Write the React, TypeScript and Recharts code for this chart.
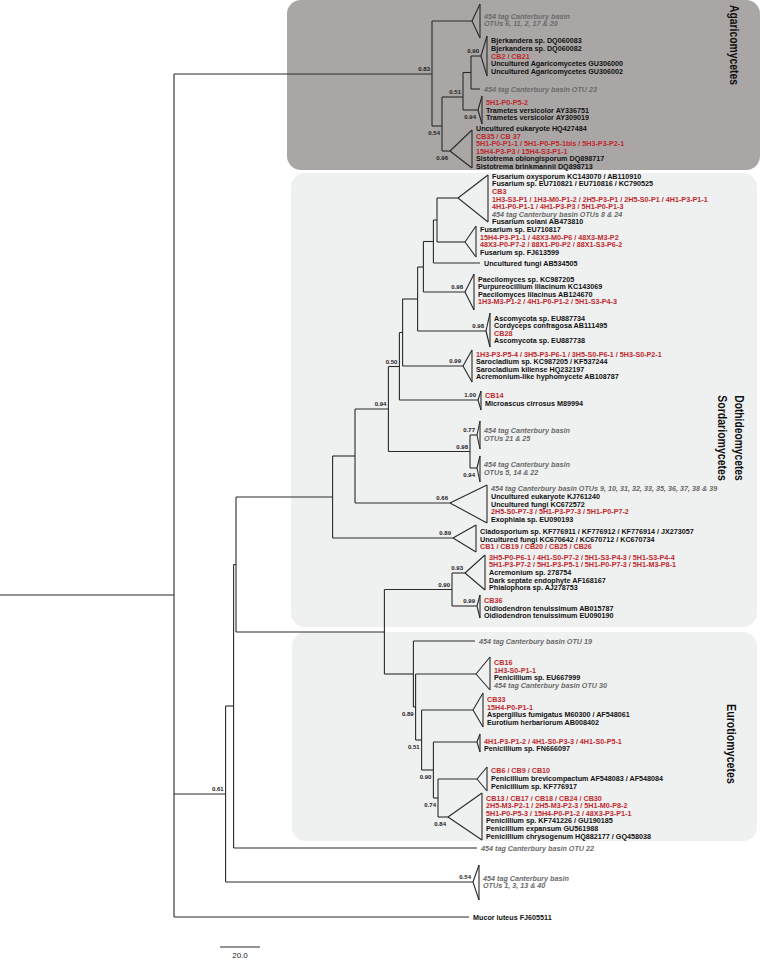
import React from 'react';
import { ScatterChart, Scatter, XAxis, YAxis, ReferenceLine, ReferenceArea } from 'recharts';

// x = distance from root (scale bar is 20.0), y = vertical position of the row
type Line = [string, string]; // [kind, text] kind: r = reference, i = isolate, o = 454 tag OTU

const nodes = [
  { id: 'root', parent: '', x: 0, y: 595 },
  { id: 'n1', parent: 'root', x: 87, y: 595 },
  { id: 'aga', parent: 'n1', x: 216, y: 74 },
  { id: 'aga2', parent: 'aga', x: 221, y: 126 },
  { id: 'aga3', parent: 'aga2', x: 231.5, y: 97 },
  { id: 'aga4', parent: 'aga3', x: 235.5, y: 72.5 },
  { id: 'n2', parent: 'n1', x: 112.8, y: 794 },
  { id: 'nA', parent: 'n2', x: 116.8, y: 706 },
  { id: 'n18', parent: 'nA', x: 118, y: 564.5 },
  { id: 'n308', parent: 'n18', x: 166.3, y: 497 },
  { id: 'n375', parent: 'n308', x: 177.5, y: 456 },
  { id: 'n475', parent: 'n375', x: 194.2, y: 409 },
  { id: 'n508', parent: 'n475', x: 199.7, y: 366.5 },
  { id: 'n518', parent: 'n508', x: 201.3, y: 332.5 },
  { id: 'n563', parent: 'n518', x: 208.8, y: 299 },
  { id: 'n580', parent: 'n563', x: 211.7, y: 267 },
  { id: 'n610', parent: 'n580', x: 216.7, y: 241.5 },
  { id: 'f1', parent: 'n610', x: 218.5, y: 220 },
  { id: 'n1314', parent: 'n475', x: 235, y: 451.5 },
  { id: 'nC', parent: 'n18', x: 192.2, y: 632 },
  { id: 'nD', parent: 'nC', x: 226, y: 589.5 },
  { id: 'nE', parent: 'nC', x: 206.7, y: 674 },
  { id: 'nE2', parent: 'nE', x: 207.8, y: 707 },
  { id: 'nE3', parent: 'nE2', x: 210.8, y: 740 },
  { id: 'nE4', parent: 'nE3', x: 216.7, y: 770 },
  { id: 'nE5', parent: 'nE4', x: 219, y: 798 },
];

// collapsed clades (triangles) and single leaves (no top/bottom); ty = centre of the label block
const clades: { id: string; parent: string; x: number; tip: number; y: number; ty?: number; top?: number; bottom?: number; lines: Line[] }[] = [
  { id: 'g1', parent: 'aga', x: 236, tip: 240, y: 21, ty: 20, top: 4, bottom: 38, lines: [['o', '454 tag Canterbury basin'], ['o', 'OTUs 6, 11, 2, 17 & 20']] },
  { id: 'g2', parent: 'aga4', x: 240.5, tip: 243.5, y: 56, top: 36, bottom: 76, lines: [['r', 'Bjerkandera sp. DQ060083'], ['r', 'Bjerkandera sp. DQ060082'], ['i', 'CB2 / CB21'], ['r', 'Uncultured Agaricomycetes GU306000'], ['r', 'Uncultured Agaricomycetes GU306002']] },
  { id: 'l3', parent: 'aga4', x: 240, tip: 240, y: 89, lines: [['o', '454 tag Canterbury basin OTU 23']] },
  { id: 'g4', parent: 'aga3', x: 239, tip: 241, y: 110, top: 96, bottom: 124, lines: [['i', '5H1-P0-P5-2'], ['r', 'Trametes versicolor AY336751'], ['r', 'Trametes versicolor AY309019']] },
  { id: 'g5', parent: 'aga2', x: 225, tip: 236, y: 151, ty: 147.5, top: 130, bottom: 168, lines: [['r', 'Uncultured eukaryote HQ427484'], ['i', 'CB35 / CB 37'], ['i', '5H1-P0-P1-1 / 5H1-P0-P5-1bis / 5H3-P3-P2-1'], ['i', '15H4-P3-P3 / 15H4-S3-P1-1'], ['r', 'Sistotrema oblongisporum DQ898717'], ['r', 'Sistotrema brinkmannii DQ898713']] },
  { id: 'g6', parent: 'f1', x: 229, tip: 244, y: 198, ty: 199, top: 175, bottom: 222, lines: [['r', 'Fusarium oxysporum KC143070 / AB110910'], ['r', 'Fusarium sp. EU710821 / EU710816 / KC790525'], ['i', 'CB3'], ['i', '1H3-S3-P1 / 1H3-M0-P1-2 / 2H5-P3-P1 / 2H5-S0-P1 / 4H1-P3-P1-1'], ['i', '4H1-P0-P1-1 / 4H1-P3-P3 / 5H1-P0-P1-3'], ['o', '454 tag Canterbury basin OTUs 8 & 24'], ['r', 'Fusarium solani AB473810']] },
  { id: 'g7', parent: 'f1', x: 232.5, tip: 238, y: 242, ty: 241, top: 226, bottom: 257, lines: [['r', 'Fusarium sp. EU710817'], ['i', '15H4-P3-P1-1 / 48X3-M0-P6 / 48X3-M3-P2'], ['i', '48X3-P0-P7-2 / 88X1-P0-P2 / 88X1-S3-P6-2'], ['r', 'Fusarium sp. FJ613599']] },
  { id: 'l8', parent: 'n610', x: 240, tip: 240, y: 263, lines: [['r', 'Uncultured fungi AB534505']] },
  { id: 'g9', parent: 'n580', x: 232.5, tip: 237, y: 292, ty: 290.5, top: 274, bottom: 310, lines: [['r', 'Paecilomyces sp. KC987205'], ['r', 'Purpureocillium lilacinum KC143069'], ['r', 'Paecilomyces lilacinus AB124670'], ['i', '1H3-M3-P1-2 / 4H1-P0-P1-2 / 5H1-S3-P4-3']] },
  { id: 'g10', parent: 'n563', x: 243, tip: 245, y: 331, ty: 329.5, top: 313, bottom: 347, lines: [['r', 'Ascomycota sp. EU887734'], ['r', 'Cordyceps confragosa AB111495'], ['i', 'CB28'], ['r', 'Ascomycota sp. EU887738']] },
  { id: 'g11', parent: 'n518', x: 231.5, tip: 236, y: 366, ty: 365.5, top: 350, bottom: 382, lines: [['i', '1H3-P3-P5-4 / 3H5-P3-P6-1 / 3H5-S0-P6-1 / 5H3-S0-P2-1'], ['r', 'Sarocladium sp. KC987205 / KF537244'], ['r', 'Sarocladium kiliense HQ232197'], ['r', 'Acremonium-like hyphomycete AB108787']] },
  { id: 'g12', parent: 'n508', x: 239, tip: 240.5, y: 400, ty: 399.5, top: 391, bottom: 410, lines: [['i', 'CB14'], ['r', 'Microascus cirrosus M89994']] },
  { id: 'g13', parent: 'n1314', x: 238.5, tip: 240, y: 435, ty: 434.5, top: 421, bottom: 449, lines: [['o', '454 tag Canterbury basin'], ['o', 'OTUs 21 & 25']] },
  { id: 'g14', parent: 'n1314', x: 238.5, tip: 240, y: 468, ty: 468.5, top: 456, bottom: 482, lines: [['o', '454 tag Canterbury basin'], ['o', 'OTUs 5, 14 & 22']] },
  { id: 'g15', parent: 'n375', x: 225, tip: 243.5, y: 503, ty: 504, top: 485, bottom: 523, lines: [['o', '454 tag Canterbury basin OTUs 9, 10, 31, 32, 33, 35, 36, 37, 38 & 39'], ['r', 'Uncultured eukaryote KJ761240'], ['r', 'Uncultured fungi KC672572'], ['i', '2H5-S0-P7-3 / 5H1-P3-P7-3 / 5H1-P0-P7-2'], ['r', 'Exophiala sp. EU090193']] },
  { id: 'g16', parent: 'n308', x: 226.5, tip: 238, y: 538, ty: 539, top: 525, bottom: 552, lines: [['r', 'Cladosporium sp. KF776911 / KF776912 / KF776914 / JX273057'], ['r', 'Uncultured fungi KC670642 / KC670712 / KC670734'], ['i', 'CB1 / CB19 / CB20 / CB25 / CB26']] },
  { id: 'g17', parent: 'nD', x: 232.5, tip: 242.5, y: 573, ty: 572.5, top: 555, bottom: 590, lines: [['i', '3H5-P0-P6-1 / 4H1-S0-P7-2 / 5H1-S3-P4-3 / 5H1-S3-P4-4'], ['i', '5H1-P3-P7-2 / 5H1-P3-P5-1 / 5H1-P0-P7-3 / 5H1-M3-P8-1'], ['r', 'Acremonium sp. 278754'], ['r', 'Dark septate endophyte AF168167'], ['r', 'Phialophora sp. AJ278753']] },
  { id: 'g18', parent: 'nD', x: 238.5, tip: 240, y: 606, ty: 608, top: 595, bottom: 618, lines: [['i', 'CB36'], ['r', 'Oidiodendron tenuissimum AB015787'], ['r', 'Oidiodendron tenuissimum EU090190']] },
  { id: 'l19', parent: 'nE', x: 237.5, tip: 237.5, y: 641, lines: [['o', '454 tag Canterbury basin OTU 19']] },
  { id: 'g19', parent: 'nE2', x: 238, tip: 245, y: 674, ty: 674, top: 657, bottom: 690, lines: [['i', 'CB16'], ['i', '1H3-S0-P1-1'], ['r', 'Penicillium sp. EU667999'], ['o', '454 tag Canterbury basin OTU 30']] },
  { id: 'g20', parent: 'nE3', x: 236.5, tip: 241.5, y: 710, ty: 711, top: 693, bottom: 727, lines: [['i', 'CB33'], ['i', '15H4-P0-P1-1'], ['r', 'Aspergillus fumigatus M60300 / AF548061'], ['r', 'Eurotium herbariorum AB008402']] },
  { id: 'g21', parent: 'nE4', x: 238.5, tip: 240, y: 742, ty: 745, top: 734, bottom: 752, lines: [['i', '4H1-P3-P1-2 / 4H1-S0-P3-3 / 4H1-S0-P5-1'], ['r', 'Penicillium sp. FN666097']] },
  { id: 'g22', parent: 'nE5', x: 238.5, tip: 243.5, y: 779, ty: 778.5, top: 767, bottom: 791, lines: [['i', 'CB6 / CB9 / CB10'], ['r', 'Penicillium brevicompactum AF548083 / AF548084'], ['r', 'Penicillium sp. KF776917']] },
  { id: 'g23', parent: 'nE5', x: 224, tip: 241, y: 817, ty: 817, top: 793, bottom: 840, lines: [['i', 'CB13 / CB17 / CB18 / CB24 / CB30'], ['i', '2H5-M3-P2-1 / 2H5-M3-P2-3 / 5H1-M0-P8-2'], ['i', '5H1-P0-P5-3 / 15H4-P0-P1-2 / 48X3-P3-P1-1'], ['r', 'Penicillium sp. KF741226 / GU190185'], ['r', 'Penicillium expansum GU561988'], ['r', 'Penicillium chrysogenum HQ882177 / GQ458038']] },
  { id: 'l22', parent: 'nA', x: 238.5, tip: 238.5, y: 848, lines: [['o', '454 tag Canterbury basin OTU 22']] },
  { id: 'g24', parent: 'n2', x: 236.5, tip: 239.5, y: 882, top: 865, bottom: 900, lines: [['o', '454 tag Canterbury basin'], ['o', 'OTUs 1, 3, 13 & 40']] },
  { id: 'mucor', parent: 'n1', x: 234.5, tip: 234.5, y: 917, lines: [['r', 'Mucor luteus FJ605511']] },
];

// posterior support values, shown above or below the branch leading to a node
const supports: [string, string, 'up' | 'down'][] = [
  ['aga', '0.83', 'up'], ['aga2', '0.54', 'down'], ['aga3', '0.51', 'up'], ['g2', '0.90', 'up'],
  ['g4', '0.94', 'down'], ['g5', '0.96', 'down'], ['g9', '0.98', 'up'], ['g10', '0.98', 'up'],
  ['g11', '0.99', 'up'], ['g12', '1.00', 'up'], ['g13', '0.77', 'up'], ['g14', '0.94', 'down'],
  ['n1314', '0.98', 'up'], ['n508', '0.50', 'up'], ['n475', '0.94', 'up'], ['g15', '0.66', 'up'],
  ['g16', '0.89', 'up'], ['g17', '0.93', 'up'], ['g18', '0.99', 'up'], ['nD', '0.90', 'up'],
  ['nE2', '0.89', 'down'], ['nE3', '0.51', 'down'], ['nE4', '0.90', 'down'], ['nE5', '0.74', 'down'],
  ['g23', '0.84', 'down'], ['g24', '0.54', 'up'], ['n2', '0.61', 'up'],
];

const classBoxes = [
  { names: ['Agaricomycetes'], x1: 143.5, x2: 380, y1: 0, y2: 170, labelY: 45, fill: '#a9a6a5' },
  { names: ['Dothideomycetes', 'Sordariomycetes'], x1: 145.5, x2: 378.5, y1: 173, y2: 627, labelY: 438, fill: '#eff0f0' },
  { names: ['Eurotiomycetes'], x1: 146, x2: 378.5, y1: 632, y2: 841, labelY: 744, fill: '#eff0f0' },
];

const scaleBar = { x: 110, y: 947, length: 20, label: '20.0' };

const FONT = "'Liberation Sans', Arial, Helvetica, sans-serif";
const kindColor: Record<string, string> = { r: '#111111', i: '#c0282d', o: '#6b6b6b' };
const BRANCH = '#2a2a2a';

const all = [...nodes, ...clades];
const byId: Record<string, { x: number; y: number }> = {};
all.forEach((n) => (byId[n.id] = n));

type Pt = { x: number; y: number };
const segments: [Pt, Pt][] = [];
all.forEach((n) => {
  if (n.parent) segments.push([{ x: byId[n.parent].x, y: n.y }, { x: n.x, y: n.y }]);
});
nodes.forEach((n) => {
  const ys = all.filter((c) => c.parent === n.id).map((c) => c.y);
  if (ys.length > 1) segments.push([{ x: n.x, y: Math.min(...ys) }, { x: n.x, y: Math.max(...ys) }]);
});
clades.forEach((c) => {
  if (c.top == null || c.bottom == null) return;
  segments.push([{ x: c.x, y: c.y }, { x: c.tip, y: c.top }]);
  segments.push([{ x: c.x, y: c.y }, { x: c.tip, y: c.bottom }]);
  segments.push([{ x: c.tip, y: c.top }, { x: c.tip, y: c.bottom }]);
});

const leafLabels = clades.map((c) => ({ x: c.tip, y: c.ty ?? c.y, lines: c.lines }));
const supportLabels = supports.map(([id, value, side]) => ({ x: byId[id].x, y: byId[id].y, value, side }));
const classLabels = classBoxes.map((b) => ({ x: b.x2, y: b.labelY, names: b.names }));
const scaleLabel = [{ x: scaleBar.x + scaleBar.length / 2, y: scaleBar.y, label: scaleBar.label }];

function LeafText(props: any) {
  const { cx, cy, payload } = props;
  const lh = 7.6;
  const y0 = cy - ((payload.lines.length - 1) * lh) / 2;
  return (
    <g>
      {payload.lines.map(([k, t]: Line, i: number) => (
        <text key={i} x={cx + 4} y={y0 + i * lh} dy="0.35em" fontFamily={FONT} fontSize={7.2}
          fontWeight="bold" fontStyle={k === 'o' ? 'italic' : 'normal'} fill={kindColor[k]}>
          {t}
        </text>
      ))}
    </g>
  );
}

function SupportText(props: any) {
  const { cx, cy, payload } = props;
  return (
    <text x={cx - 2} y={payload.side === 'up' ? cy - 3 : cy + 8.5} textAnchor="end"
      fontFamily={FONT} fontSize={6} fontWeight="bold" fill="#222">
      {payload.value}
    </text>
  );
}

function ClassText(props: any) {
  const { cx, cy, payload } = props;
  const n = payload.names.length;
  return (
    <g>
      {payload.names.map((t: string, i: number) => {
        const tx = cx - 26 - (i - (n - 1) / 2) * 17;
        return (
          <text key={t} x={tx} y={cy} textAnchor="middle" dominantBaseline="central"
            transform={`rotate(90, ${tx}, ${cy})`} textLength={t.length * 5.7} lengthAdjust="spacingAndGlyphs"
            fontFamily={FONT} fontSize={13} fontWeight="bold" fill="#111">
            {t}
          </text>
        );
      })}
    </g>
  );
}

function ScaleText(props: any) {
  const { cx, cy, payload } = props;
  return (
    <text x={cx} y={cy + 11} textAnchor="middle" fontFamily={FONT} fontSize={8} fill="#222">
      {payload.label}
    </text>
  );
}

export default function App() {
  return (
    <div style={{ position: 'absolute', left: 0, top: 0, background: '#fff' }}>
      <ScatterChart width={760} height={961} margin={{ top: 0, right: 0, bottom: 0, left: 0 }}>
        <XAxis type="number" dataKey="x" domain={[0, 380]} allowDataOverflow hide />
        <YAxis type="number" dataKey="y" domain={[0, 961]} allowDataOverflow reversed hide />
        {classBoxes.map((b) => (
          <ReferenceArea key={b.names[0]} x1={b.x1} x2={b.x2} y1={b.y1} y2={b.y2} ifOverflow="visible"
            shape={(p: any) => <rect x={p.x} y={p.y} width={p.width} height={p.height} rx={14} ry={14} fill={b.fill} />} />
        ))}
        {segments.map((s, i) => (
          <ReferenceLine key={i} segment={s} stroke={BRANCH} strokeWidth={1.1} ifOverflow="visible" />
        ))}
        <ReferenceLine segment={[{ x: scaleBar.x, y: scaleBar.y }, { x: scaleBar.x + scaleBar.length, y: scaleBar.y }]}
          stroke={BRANCH} strokeWidth={1.1} ifOverflow="visible" />
        <Scatter data={leafLabels} dataKey="y" shape={LeafText} isAnimationActive={false} />
        <Scatter data={supportLabels} dataKey="y" shape={SupportText} isAnimationActive={false} />
        <Scatter data={classLabels} dataKey="y" shape={ClassText} isAnimationActive={false} />
        <Scatter data={scaleLabel} dataKey="y" shape={ScaleText} isAnimationActive={false} />
      </ScatterChart>
    </div>
  );
}
